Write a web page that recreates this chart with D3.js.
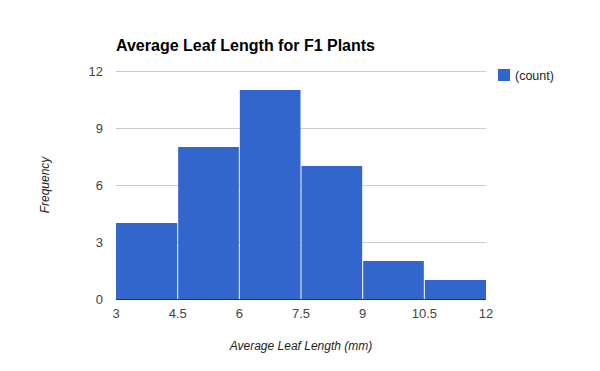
<!DOCTYPE html>
<html>
<head>
<meta charset="utf-8">
<script src="https://cdn.jsdelivr.net/npm/d3@7"></script>
<style>
  body { margin: 0; background: #fff; }
  text { font-family: Arial, "Liberation Sans", sans-serif; }
</style>
</head>
<body>
<svg id="chart"></svg>
<script>
const binEdges = [3, 4.5, 6, 7.5, 9, 10.5, 12];
const counts = [4, 8, 11, 7, 2, 1];
const yTicks = [0, 3, 6, 9, 12];
const xTickLabels = ['3', '4.5', '6', '7.5', '9', '10.5', '12'];

width = 600
height = 371
marginTop = 71
marginRight = 114
marginBottom = 72
marginLeft = 116

const svg = d3.select('#chart')
  .attr('width', width)
  .attr('height', height)
  .attr('viewBox', [0, 0, width, height]);

const x = d3.scaleLinear().domain([3, 12]).range([marginLeft, width - marginRight]);
const y = d3.scaleLinear().domain([0, 12]).range([height - marginBottom, marginTop]);

// gridlines
svg.append('g').selectAll('line')
  .data(yTicks.slice(1))
  .enter().append('line')
  .attr('x1', x(3)).attr('x2', x(12))
  .attr('y1', d => Math.round(y(d)) + 0.5)
  .attr('y2', d => Math.round(y(d)) + 0.5)
  .attr('stroke', '#cccccc');

// bars
svg.append('g').selectAll('rect')
  .data(counts)
  .enter().append('rect')
  .attr('x', (d, i) => x(binEdges[i]) + (i > 0 ? 0.5 : 0))
  .attr('width', (d, i) => x(binEdges[i + 1]) - x(binEdges[i]) - (i > 0 ? 0.5 : 0) - (i < counts.length - 1 ? 0.5 : 0))
  .attr('y', d => y(d))
  .attr('height', d => y(0) - y(d))
  .attr('fill', '#3366cc');

// baseline
svg.append('line')
  .attr('x1', x(3)).attr('x2', x(12))
  .attr('y1', Math.round(y(0)) + 0.5).attr('y2', Math.round(y(0)) + 0.5)
  .attr('stroke', '#333333');

// y tick labels
svg.append('g').selectAll('text')
  .data(yTicks)
  .enter().append('text')
  .text(d => d)
  .attr('x', marginLeft - 13)
  .attr('y', d => y(d) + 4.5)
  .attr('text-anchor', 'end')
  .attr('font-size', 13)
  .attr('fill', '#444444');

// x tick labels
svg.append('g').selectAll('text')
  .data(binEdges)
  .enter().append('text')
  .text((d, i) => xTickLabels[i])
  .attr('x', d => x(d))
  .attr('y', 318)
  .attr('text-anchor', 'middle')
  .attr('font-size', 13)
  .attr('fill', '#444444');

// title
svg.append('text')
  .text('Average Leaf Length for F1 Plants')
  .attr('x', marginLeft)
  .attr('y', 51)
  .attr('font-size', 16)
  .attr('font-weight', 'bold')
  .attr('fill', '#000');

// axis titles
svg.append('text')
  .text('Average Leaf Length (mm)')
  .attr('x', (x(3) + x(12)) / 2)
  .attr('y', 350)
  .attr('text-anchor', 'middle')
  .attr('font-size', 12)
  .attr('font-style', 'italic')
  .attr('fill', '#222222');

svg.append('text')
  .text('Frequency')
  .attr('transform', `translate(49, ${(y(0) + y(12)) / 2}) rotate(-90)`)
  .attr('text-anchor', 'middle')
  .attr('font-size', 12)
  .attr('font-style', 'italic')
  .attr('fill', '#222222');

// legend
const legend = svg.append('g').attr('transform', 'translate(498, 69)');
legend.append('rect')
  .attr('width', 12).attr('height', 12)
  .attr('fill', '#3366cc');
legend.append('text')
  .text('(count)')
  .attr('x', 17)
  .attr('y', 11)
  .attr('font-size', 12.5)
  .attr('fill', '#222222');
</script>
</body>
</html>
